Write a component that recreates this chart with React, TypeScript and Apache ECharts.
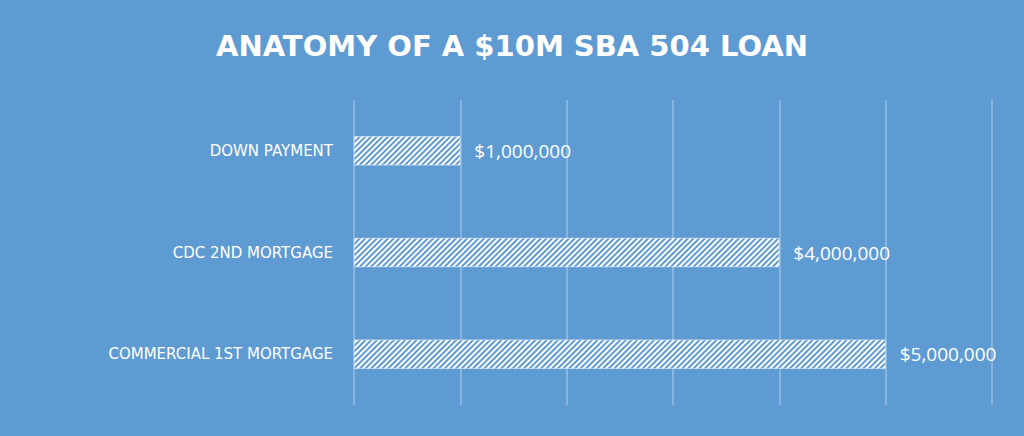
import React, { useEffect, useRef } from "react";
import * as echarts from "echarts";

const categories = ["DOWN PAYMENT", "CDC 2ND MORTGAGE", "COMMERCIAL 1ST MORTGAGE"];
const values = [1000000, 4000000, 5000000];
const titleText = "ANATOMY OF A $10M SBA 504 LOAN";

const BG = "#5F9BD3";

export default function App() {
  const ref = useRef<HTMLDivElement>(null);
  useEffect(() => {
    document.body.style.margin = "0";
    const chart = echarts.init(ref.current!, null, { renderer: "svg" });
    chart.setOption({
      animation: false,
      backgroundColor: BG,
      title: {
        text: titleText,
        left: "center",
        top: 26,
        textStyle: {
          color: "#ffffff",
          fontFamily: "DejaVu Sans",
          fontWeight: "bold",
          fontSize: 29,
        },
      },
      grid: { left: 354, right: 32, top: 100, bottom: 31 },
      xAxis: {
        type: "value",
        min: 0,
        max: 6000000,
        interval: 1000000,
        axisLabel: { show: false },
        axisLine: { show: false },
        axisTick: { show: false },
        splitLine: { show: true, lineStyle: { color: "rgba(255,255,255,0.35)", width: 1.5 } },
      },
      yAxis: {
        type: "category",
        data: categories,
        inverse: true,
        axisLine: { show: false },
        axisTick: { show: false },
        axisLabel: {
          color: "#ffffff",
          fontFamily: "DejaVu Sans",
          fontSize: 15,
          margin: 21,
        },
      },
      series: [
        {
          type: "bar",
          data: values,
          barWidth: 29,
          itemStyle: {
            color: BG,
            borderColor: "rgba(255,255,255,0.6)",
            borderWidth: 0.5,
            decal: {
              symbol: "rect",
              color: "#ffffff",
              dashArrayX: [1, 0],
              dashArrayY: [2, 2],
              rotation: -Math.PI / 4,
            },
          },
          label: {
            show: true,
            position: "right",
            distance: 14,
            color: "#ffffff",
            fontFamily: "Open Sans",
            fontSize: 19,
            formatter: (p: any) => "$" + Number(p.value).toLocaleString("en-US"),
          },
        },
      ],
    });
    return () => chart.dispose();
  }, []);
  return <div ref={ref} style={{ width: 1024, height: 436 }} />;
}
